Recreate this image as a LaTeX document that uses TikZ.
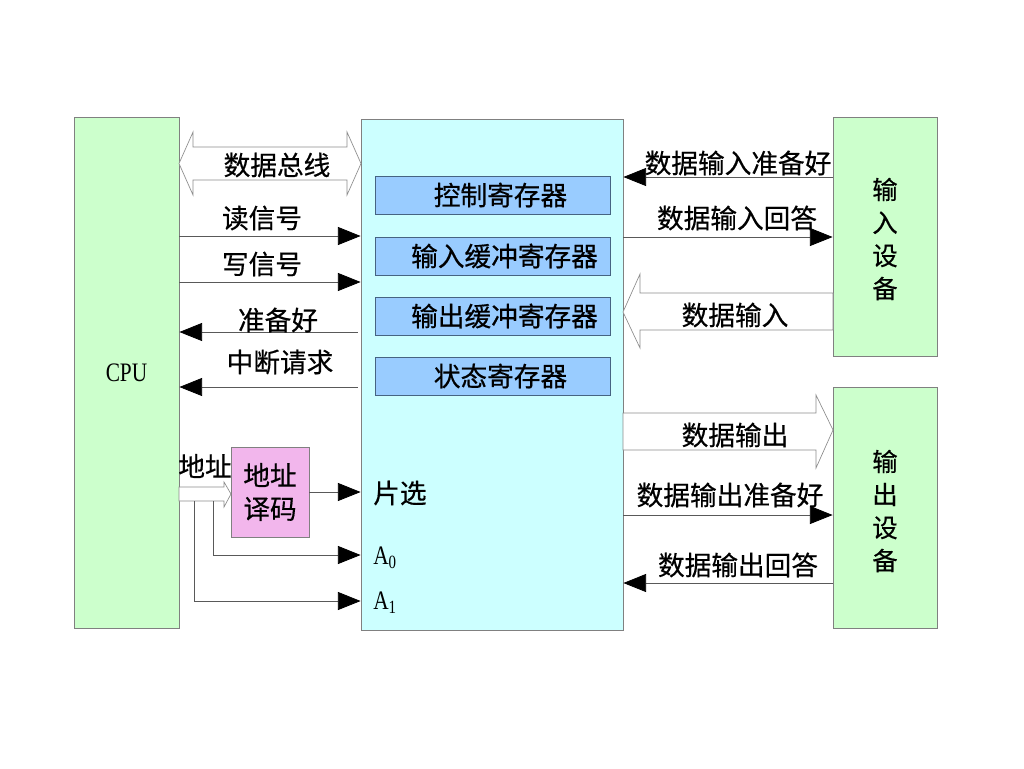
\documentclass[tikz,border=0pt]{standalone}
\usepackage{fontspec}
\setmainfont{Liberation Serif}
\newfontfamily\cjk{Noto Sans CJK SC}[FakeBold=0.5]
\usetikzlibrary{arrows.meta,calc}

\definecolor{cpugreen}{RGB}{204,255,204}
\definecolor{ifcyan}{RGB}{204,255,255}
\definecolor{regblue}{RGB}{153,204,255}
\definecolor{regedge}{RGB}{70,100,130}
\definecolor{decpink}{RGB}{242,182,236}

\newcommand{\narrow}[1]{\scalebox{0.8}[1]{#1}}

\tikzset{
  rect/.style 2 args={minimum width=#1*0.75pt, minimum height=#2*0.75pt, inner sep=0pt},
  unit/.style={draw=black!50, line width=0.6pt},
  reg/.style={draw=regedge, fill=regblue, line width=0.6pt, font=\cjk\fontsize{20}{24}\selectfont},
  lbl/.style={font=\cjk\fontsize{20}{24}\selectfont, inner sep=0pt},
  sig/.style={draw=black!65, line width=0.6pt, -{Triangle[length=17pt,width=13.5pt,color=black]}},
  hollow/.style={draw=black!45, fill=white, line width=0.5pt, line join=miter},
}

\begin{document}
\begin{tikzpicture}[x=0.75pt,y=0.75pt,yscale=-1,xscale=1]
\useasboundingbox[fill=white] (0,0) rectangle (1024,768);

% main blocks
\node[unit, fill=cpugreen, rect={105}{511}, font=\fontsize{20}{24}\selectfont] (cpu) at (126.5,372.5) {\narrow{CPU}};
\node[unit, fill=ifcyan, rect={262}{511}] (ifc) at (492,374.5) {};
\node[unit, fill=cpugreen, rect={104}{239}] (indev) at (885,236.5) {};
\node[unit, fill=cpugreen, rect={104}{241}] (outdev) at (885,507.5) {};
\node[lbl, align=center, font=\cjk\fontsize{19}{24.75}\selectfont] (indevtext) at (885,239) {输\\入\\设\\备};
\node[lbl, align=center, font=\cjk\fontsize{19}{24.75}\selectfont] (outdevtext) at (885,511) {输\\出\\设\\备};

% registers
\node[reg, rect={235}{38}] (ctrl) at (492.5,195) {\hspace{12pt}控制寄存器};
\node[reg, rect={235}{38}] (inbuf) at (492.5,256) {\hspace{18pt}输入缓冲寄存器};
\node[reg, rect={235}{38}] (outbuf) at (492.5,316) {\hspace{18pt}输出缓冲寄存器};
\node[reg, rect={235}{38}] (stat) at (492.5,376) {\hspace{12pt}状态寄存器};

% address decoder
\node[unit, fill=decpink, rect={78}{90}, align=center, font=\cjk\fontsize{20}{25}\selectfont] (dec) at (270,492) {地址\\译码};

% data bus
\draw[hollow] (179,163.5) -- (193,132) -- (193,147) -- (347,147) -- (347,132) -- (361,163.5)
  -- (347,195) -- (347,180) -- (193,180) -- (193,195) -- cycle;
\node[lbl] (busl) at (277,165) {数据总线};

% cpu side signals
\draw[sig] (cpu.east |- 0,236) -- (ifc.west |- 0,236);
\node[lbl] (rdl) at (262,218) {读信号};
\draw[sig] (cpu.east |- 0,282) -- (ifc.west |- 0,282);
\node[lbl] (wrl) at (262,264) {写信号};
\draw[sig] ($(ifc.west |- 0,332)+(-3,0)$) -- (cpu.east |- 0,332);
\node[lbl] (rdyl) at (278,320) {准备好};
\draw[sig] ($(ifc.west |- 0,387)+(-3,0)$) -- (cpu.east |- 0,387);
\node[lbl] (intl) at (280,362) {中断请求};

% address lines
\node[lbl] (addrl) at (205,466) {地址};
\draw[hollow] (179,487) -- (224,487) -- (224,482) -- (231,494) -- (224,507) -- (224,501) -- (179,501) -- cycle;
\draw[sig] (dec.east) -- (dec.east -| ifc.west);
\node[lbl, anchor=west] (csl) at (373,493) {片选};
\draw[sig] (213,501) |- (ifc.west |- 0,555);
\draw[sig] (194,501) |- (ifc.west |- 0,601);
\node[anchor=west, inner sep=0pt, font=\fontsize{20}{24}\selectfont] (a0l) at (373,558) {\narrow{A\textsubscript{0}}};
\node[anchor=west, inner sep=0pt, font=\fontsize{20}{24}\selectfont] (a1l) at (373,603) {\narrow{A\textsubscript{1}}};

% input device side
\draw[sig] (indev.west |- 0,177) -- (ifc.east |- 0,177);
\node[lbl] (inrdyl) at (738,163) {数据输入准备好};
\draw[sig] (ifc.east |- 0,237) -- (indev.west |- 0,237);
\node[lbl] (inackl) at (737,218) {数据输入回答};
\draw[hollow] (623,312) -- (640,274) -- (640,293) -- (833,293) -- (833,330) -- (640,330) -- (640,348) -- cycle;
\node[lbl] (inl) at (735,315) {数据输入};

% output device side
\draw[hollow] (623,413) -- (816,413) -- (816,395) -- (833,430) -- (816,468) -- (816,450) -- (623,450) -- cycle;
\node[lbl] (outl) at (735,435) {数据输出};
\draw[sig] (ifc.east |- 0,515) -- (outdev.west |- 0,515);
\node[lbl] (outrdyl) at (730,495) {数据输出准备好};
\draw[sig] (outdev.west |- 0,583) -- (ifc.east |- 0,583);
\node[lbl] (outackl) at (738,565) {数据输出回答};
\end{tikzpicture}
\end{document}
